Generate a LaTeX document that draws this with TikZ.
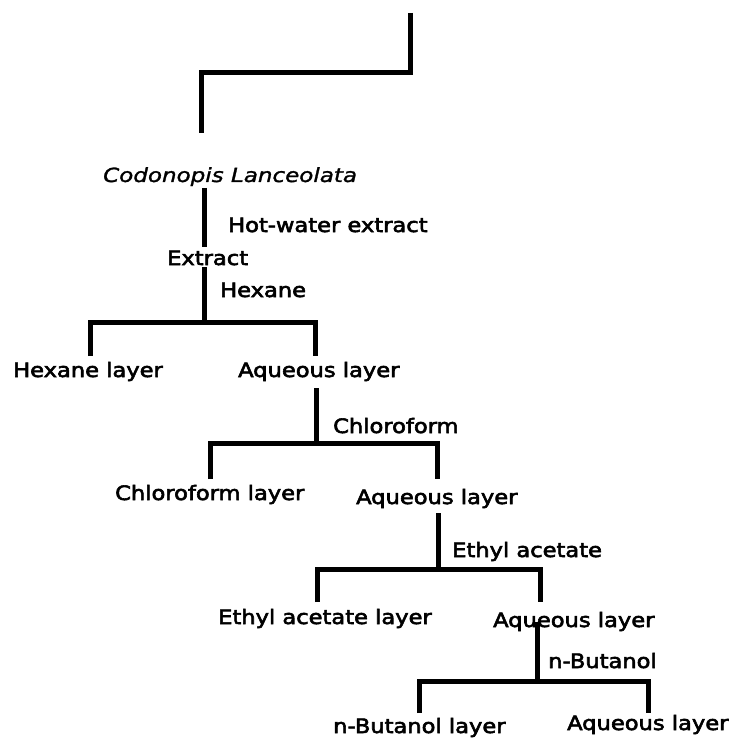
\documentclass[tikz,border=0pt]{standalone}
\usepackage{fontspec}
\setmainfont{DejaVu Sans}[FakeStretch=1.14, FakeBold=3]
\newfontfamily\speciesfont{DejaVu Sans}[FakeStretch=1.18, FakeBold=1.5]
\begin{document}
\begin{tikzpicture}[x=1pt,y=-1pt,
  lbl/.style={anchor=base west, inner sep=0pt, font=\fontsize{19.8}{24}\selectfont},
  species/.style={lbl, font=\speciesfont\fontsize{19.5}{24}\selectfont\itshape},
  link/.style={line width=5pt, line cap=butt, line join=miter}]
\useasboundingbox (0,0) rectangle (732,743);

% step-shaped bracket at the top
\coordinate (s1) at (410,13);
\coordinate (s2) at (410,73);
\coordinate (s3) at (201,73);
\coordinate (s4) at (201,133);
\draw[link] (s1) -- (s2) -- (s3) -- (s4);

% texts
\node[species] (plant) at (103,182) {Codonopis Lanceolata};
\node[lbl] (hot)    at (228,232) {Hot-water extract};
\node[lbl] (ext)    at (167,265) {Extract};
\node[lbl] (hex)    at (220,297) {Hexane};
\node[lbl] (hexL)   at (13,377)  {Hexane layer};
\node[lbl] (aq1)    at (238,377) {Aqueous layer};
\node[lbl] (chl)    at (333,433) {Chloroform};
\node[lbl] (chlL)   at (115,500) {Chloroform layer};
\node[lbl] (aq2)    at (356,504) {Aqueous layer};
\node[lbl] (eth)    at (452,557) {Ethyl acetate};
\node[lbl] (ethL)   at (218,624) {Ethyl acetate layer};
\node[lbl] (aq3)    at (493,627) {Aqueous layer};
\node[lbl] (but)    at (548,668) {n-Butanol};
\node[lbl] (butL)   at (333,733) {n-Butanol layer};
\node[lbl] (aq4)    at (567,730) {Aqueous layer};

% hot-water extraction
\coordinate (p0) at (204,188);
\coordinate (p1) at (204,247);
\draw[link] (p0) -- (p1);

% hexane partition
\coordinate (h0) at (204,267);
\coordinate (h1) at (204,322);
\coordinate (hl) at (90,322);
\coordinate (hr) at (315,322);
\coordinate (hlE) at (90,356);
\coordinate (hrE) at (315,356);
\draw[link] (h0) -- (h1);
\draw[link] (hlE) -- (hl) -- (hr) -- (hrE);

% chloroform partition
\coordinate (c0) at (316,388);
\coordinate (c1) at (316,443);
\coordinate (cl) at (210,443);
\coordinate (cr) at (437,443);
\coordinate (clE) at (210,479);
\coordinate (crE) at (437,479);
\draw[link] (c0) -- (c1);
\draw[link] (clE) -- (cl) -- (cr) -- (crE);

% ethyl acetate partition
\coordinate (e0) at (438,513);
\coordinate (e1) at (438,569);
\coordinate (el) at (317,569);
\coordinate (er) at (540,569);
\coordinate (elE) at (317,602);
\coordinate (erE) at (540,602);
\draw[link] (e0) -- (e1);
\draw[link] (elE) -- (el) -- (er) -- (erE);

% n-butanol partition
\coordinate (b0) at (537,622);
\coordinate (b1) at (537,681);
\coordinate (bl) at (419,681);
\coordinate (br) at (648,681);
\coordinate (blE) at (419,713);
\coordinate (brE) at (648,713);
\draw[link] (b0) -- (b1);
\draw[link] (blE) -- (bl) -- (br) -- (brE);
\end{tikzpicture}
\end{document}
